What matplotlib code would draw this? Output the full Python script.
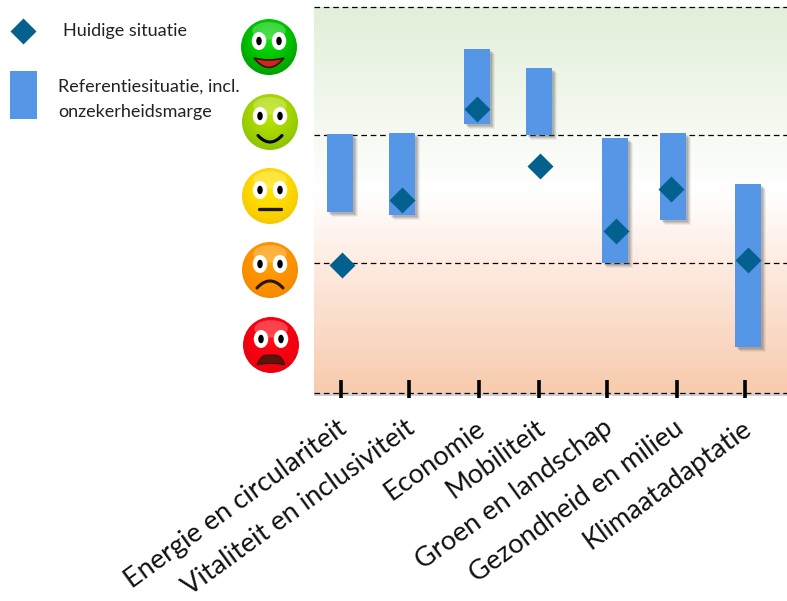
import numpy as np
import matplotlib
matplotlib.use("Agg")
import matplotlib.pyplot as plt
from matplotlib.colors import LinearSegmentedColormap
from matplotlib.patches import Circle, Ellipse, Polygon, Rectangle, PathPatch
from matplotlib.path import Path
from matplotlib.transforms import ScaledTranslation

plt.rcParams['font.family'] = ['Lato', 'DejaVu Sans']

W, H = 787, 601

# categories and values (score: 0 = bottom line, 3 = top line)
categories = ['Energie en circulariteit', 'Vitaliteit en inclusiviteit', 'Economie', 'Mobiliteit',
              'Groen en landschap', 'Gezondheid en milieu', 'Klimaatadaptatie']
tick_x = [341, 409, 479, 539, 607, 677, 745]
bar_x = [340, 402.5, 477, 539, 615, 672.5, 747.5]
diamond_x = [342, 402, 477, 540, 616, 671, 748]
bar_low = [1.407, 1.383, 2.091, 2.005, 1.010, 1.344, 0.358]
bar_high = [2.013, 2.021, 2.673, 2.526, 1.982, 2.021, 1.624]
current = [0.995, 1.500, 2.207, 1.764, 1.259, 1.585, 1.034]
line_levels = [0, 1.01, 2.005, 3]

BAR_BLUE = '#5597e6'
DIAMOND = '#04618f'

fig = plt.figure(figsize=(W / 100, H / 100), dpi=100)

# achtergrond met gezichtjes en legenda, in pixels
bg = fig.add_axes([0, 0, 1, 1])
bg.set_xlim(0, W)
bg.set_ylim(H, 0)
bg.axis('off')


def draw_face(cx, cy, r, edge, mid, light, mouth):
    t = np.linspace(-1, 1, 120)
    xx, yy = np.meshgrid(t, t)
    d = np.clip(np.sqrt(xx ** 2 + (yy + 0.25) ** 2) / 1.25, 0, 1)
    cmap = LinearSegmentedColormap.from_list('f', [light, mid, edge])
    im = bg.imshow(d, cmap=cmap, vmin=0, vmax=1, extent=(cx - r, cx + r, cy + r, cy - r), zorder=2, aspect='auto')
    clip = Circle((cx, cy), r, transform=bg.transData)
    im.set_clip_path(clip)
    bg.add_patch(Ellipse((cx, cy - r * 0.58), r * 1.2, r * 0.62, fc='white', alpha=0.25, ec='none', zorder=3))
    for dx in (-10, 10):
        bg.add_patch(Ellipse((cx + dx, cy - 6), 14.5, 18, fc='white', ec='none', zorder=4))
        bg.add_patch(Ellipse((cx + dx, cy - 6), 5.5, 8.5, fc='black', ec='none', zorder=5))
    if mouth == 'laugh':
        codes = [Path.MOVETO, Path.CURVE3, Path.CURVE3, Path.CURVE3, Path.CURVE3, Path.CLOSEPOLY]
        verts = [(cx - 15, cy + 11), (cx, cy + 15), (cx + 15, cy + 11), (cx, cy + 30), (cx - 15, cy + 11), (cx - 15, cy + 11)]
        bg.add_patch(PathPatch(Path(verts, codes), fc='#d0241e', ec='#3a1208', lw=1.2, zorder=5))
    elif mouth == 'smile':
        s = np.linspace(-12, 12, 30)
        bg.plot(cx + s, cy + 13.5 + 6.5 * (1 - (s / 12) ** 2), color='black', lw=2.2, zorder=5, solid_capstyle='round')
    elif mouth == 'flat':
        bg.plot([cx - 11, cx + 11], [cy + 13, cy + 13], color='#201a00', lw=2.4, zorder=5, solid_capstyle='round')
    elif mouth == 'frown':
        s = np.linspace(-13, 13, 30)
        bg.plot(cx + s, cy + 18 - 7 * (1 - (s / 13) ** 2), color='#2a1500', lw=2.2, zorder=5, solid_capstyle='round')
    elif mouth == 'open':
        s = np.linspace(-14, 14, 30)
        pts = list(zip(cx + s, cy + 20 - 10 * (1 - (s / 14) ** 4)))
        pts += list(zip(cx - s, cy + 20 - 1.5 * (1 - (s / 14) ** 2)))
        bg.add_patch(Polygon(pts, fc='#5a140a', ec='#300a04', lw=0.6, zorder=5))


draw_face(269, 47, 28, '#00a000', '#00c800', '#10dc10', 'laugh')
draw_face(270, 122, 28, '#8cc400', '#a8d800', '#bce400', 'smile')
draw_face(270, 196, 28, '#f6c800', '#ffdc00', '#ffe600', 'flat')
draw_face(270, 270, 28, '#f58a00', '#ff9400', '#ffa400', 'frown')
draw_face(271, 345, 28, '#e80010', '#fa0010', '#ff1018', 'open')

# legenda
bg.plot([22.5], [30.5], marker='D', ms=12.8, color=DIAMOND, mec='none', ls='none', zorder=3)
bg.add_patch(Rectangle((10, 71), 27, 48, fc=BAR_BLUE, ec='none', zorder=3))
bg.text(63, 31, 'Huidige situatie', fontsize=13, color='#222222', va='center', ha='left')
bg.text(58, 87, 'Referentiesituatie, incl.', fontsize=13, color='#222222', va='center', ha='left')
bg.text(58, 112, 'onzekerheidsmarge', fontsize=13, color='#222222', va='center', ha='left')

# hoofdgrafiek
ax = fig.add_axes([314 / W, (H - 393) / H, (W - 314) / W, 386 / H])
ax.patch.set_alpha(0)
ax.set_xlim(314, W)
ax.set_ylim(0, 3)
for s in ax.spines.values():
    s.set_visible(False)

grad = LinearSegmentedColormap.from_list('bg', [
    (0.0, '#f8cbae'), (0.33, '#fdebe1'), (0.52, '#ffffff'), (0.67, '#f6faf3'), (1.0, '#e2efd9')])
ax.imshow(np.linspace(0, 1, 256).reshape(-1, 1), cmap=grad, origin='lower', aspect='auto',
          extent=(314, W, 0, 3), zorder=0)

# schaduw onder het vlak
ax.add_patch(Rectangle((314, -0.025), W - 314, 0.025, fc='#999999', alpha=0.45, ec='none', clip_on=False, zorder=0))

for lvl in line_levels:
    ax.axhline(lvl, color='black', lw=0.9, ls=(0, (4.5, 3)), zorder=1, clip_on=False)

# balken met zachte schaduw
for x, lo, hi in zip(bar_x, bar_low, bar_high):
    for off, a in [(5, 0.08), (4, 0.12), (3, 0.16), (2, 0.18)]:
        ax.bar(x + off, hi - lo, width=26, bottom=lo - off / 128.67, color='#555555', alpha=a, zorder=2, lw=0)
ax.bar(bar_x, np.array(bar_high) - np.array(bar_low), width=26, bottom=bar_low, color=BAR_BLUE, zorder=3, lw=0)
ax.plot(diamond_x, current, ls='none', marker='D', ms=12.8, color=DIAMOND, mec='none', zorder=4)

ax.vlines(tick_x, -0.04, 0.10, color='black', lw=2.6, zorder=5, clip_on=False)

ax.set_yticks([])
ax.set_xticks(tick_x)
ax.set_xticklabels(categories, rotation=36, ha='right', va='top', rotation_mode='anchor', fontsize=19.5, color='#111111')
ax.tick_params(axis='x', length=0, pad=16)
# labels iets naar links, zoals in het origineel
shift = ScaledTranslation(-4 / 100, 0, fig.dpi_scale_trans)
for lab in ax.get_xticklabels():
    lab.set_transform(lab.get_transform() + shift)

fig.savefig('out.png', dpi=100)
